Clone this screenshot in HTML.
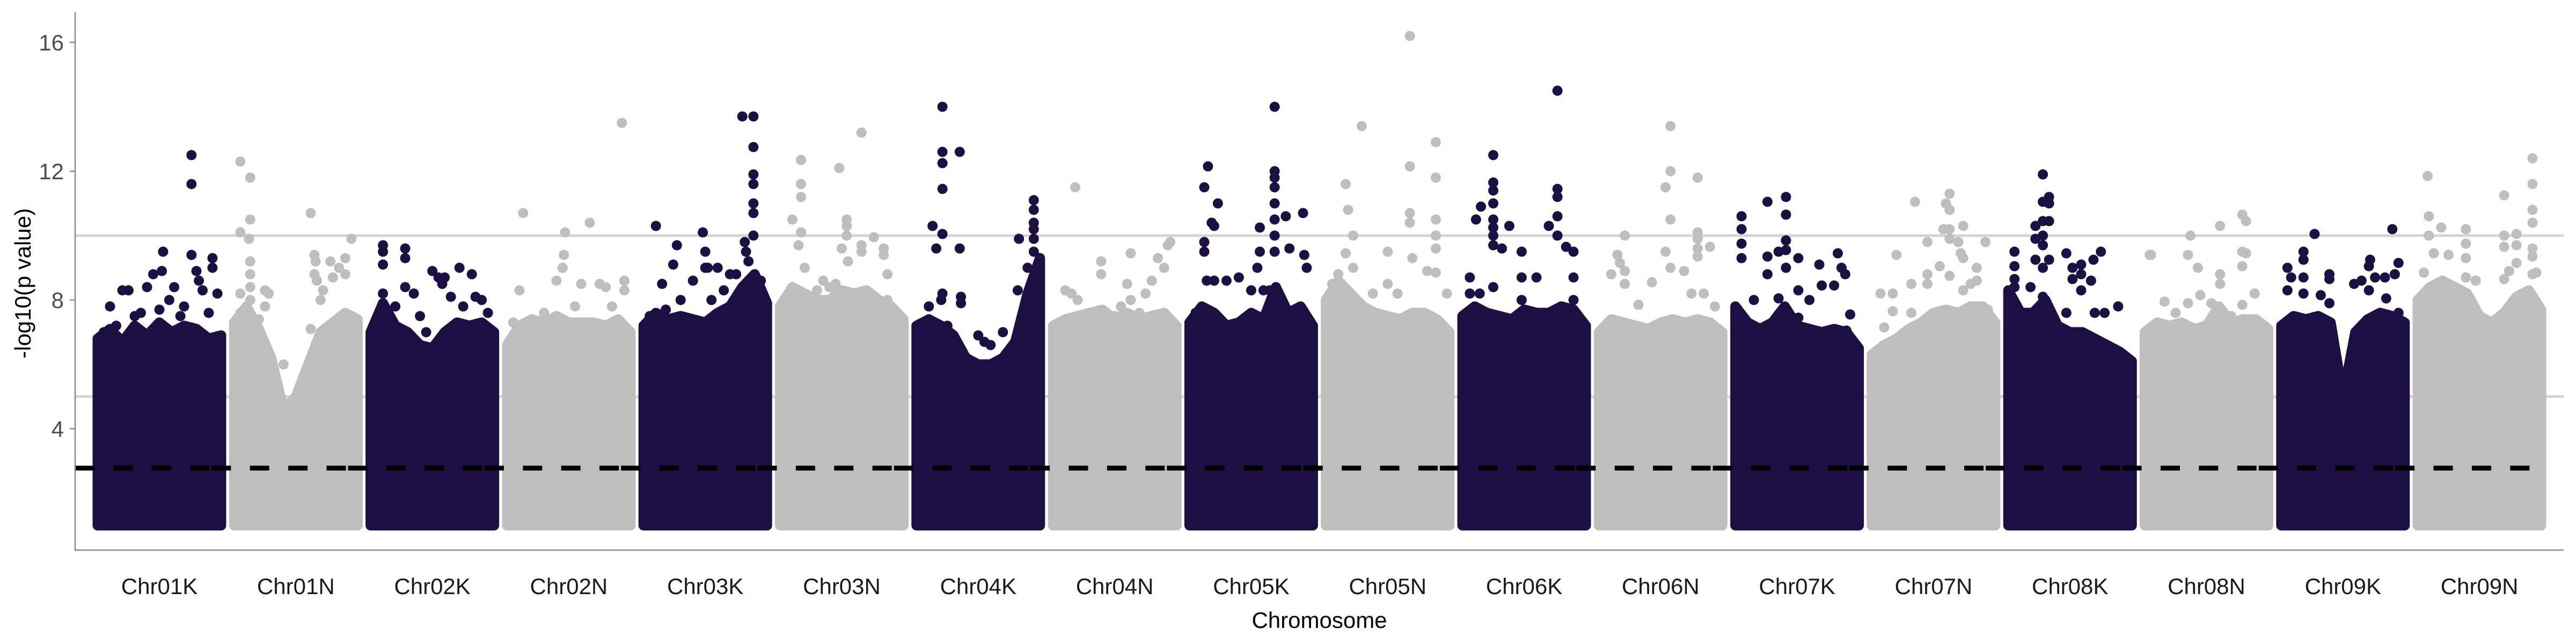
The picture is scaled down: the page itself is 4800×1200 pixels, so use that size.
<!DOCTYPE html>
<html><head><meta charset="utf-8"><style>
html,body{margin:0;padding:0;background:#fff}
svg{display:block}
text{font-family:"Liberation Sans",sans-serif}
</style></head><body>
<svg id="chart" width="4800" height="1200" viewBox="0 0 4800 1200" xmlns="http://www.w3.org/2000/svg">
<g id="refLines"></g>
<g id="blocks"></g>
<g id="points"></g>
<g id="dashes"></g>
<g id="axes"></g>
</svg>
<script>
const chromosomes = ["Chr01K","Chr01N","Chr02K","Chr02N","Chr03K","Chr03N","Chr04K","Chr04N","Chr05K","Chr05N","Chr06K","Chr06N","Chr07K","Chr07N","Chr08K","Chr08N","Chr09K","Chr09N"];
const yTicks = [4, 8, 12, 16];
const refValues = [5, 10];
const thresholdValue = 2.78;
const minValue = 1.0;
const denseTops = [
 [6.8,7.1,6.7,7.2,6.9,7.3,7.0,7.2,7.1,6.8,6.9],
 [7.3,7.8,7.1,6.2,4.6,5.0,6.0,7.0,7.3,7.6,7.4],
 [7.0,7.9,7.2,7.0,6.6,6.5,7.0,7.3,7.2,7.3,7.0],
 [6.6,7.2,7.4,7.3,7.5,7.3,7.3,7.3,7.2,7.4,7.0],
 [7.2,7.6,7.4,7.5,7.4,7.3,7.6,7.8,8.4,8.8,7.9],
 [7.8,8.4,8.2,8.0,8.0,8.3,8.2,8.3,8.0,7.8,7.4],
 [7.2,7.4,7.2,6.9,6.2,6.0,6.0,6.2,6.7,8.2,9.3],
 [7.2,7.4,7.5,7.6,7.7,7.4,7.6,7.4,7.5,7.6,7.2],
 [7.3,7.8,7.6,7.2,7.3,7.6,7.4,8.4,7.6,7.8,7.2],
 [8.0,8.6,8.2,7.8,7.6,7.5,7.4,7.6,7.6,7.4,7.0],
 [7.5,7.8,7.6,7.5,7.4,7.7,7.6,7.6,7.8,7.7,7.2],
 [7.0,7.4,7.3,7.2,7.1,7.3,7.4,7.3,7.4,7.3,7.0],
 [7.8,7.3,7.1,7.3,7.8,7.2,7.1,7.0,7.1,7.0,6.5],
 [6.3,6.6,6.8,7.1,7.3,7.6,7.7,7.6,7.8,7.8,7.3],
 [8.3,7.6,7.6,8.0,7.2,7.0,7.0,6.8,6.6,6.4,6.1],
 [7.0,7.3,7.2,7.3,7.1,7.2,7.8,7.3,7.4,7.4,7.1],
 [7.2,7.5,7.4,7.5,7.3,5.0,7.0,7.4,7.6,7.5,7.3],
 [8.0,8.4,8.6,8.4,8.2,7.5,7.3,7.6,8.1,8.3,7.7]
];
// peaks: flat [relativePosition, -log10 p, ...] per chromosome
const peaks = [
 [.76,12.5,.76,11.6,.76,9.4,.53,9.5,.52,8.9,.93,9.3,.93,9.0,.85,8.3,.8,8.9,.82,8.6,.2,8.3,.25,8.3,.1,7.8,.62,8.4,.45,8.8,.4,8.4,.35,7.6,.05,7.0,.3,7.5,.7,7.8,.9,7.6,.58,8.0,.15,7.2,.5,7.7,.67,7.5,.97,8.2],
 [.05,12.3,.13,11.8,.13,10.5,.05,10.1,.12,9.9,.13,9.2,.13,8.8,.13,8.4,.13,8.0,.62,10.7,.65,8.8,.67,8.6,.95,9.9,.9,9.3,.9,8.8,.85,9.0,.05,8.2,.05,7.6,.25,8.3,.28,8.2,.25,7.8,.62,7.1,.78,9.2,.8,8.7,.65,9.4,.66,9.2,.7,8.0,.72,8.3,.2,7.4,.4,6.0],
 [.1,9.7,.1,9.5,.1,9.1,.1,8.2,.1,7.9,.28,9.6,.28,9.3,.28,8.4,.5,8.9,.72,9.0,.82,8.8,.55,8.7,.6,8.7,.58,8.5,.65,8.1,.4,7.5,.85,8.1,.9,8.0,.45,7.0,.2,7.8,.35,8.2,.75,7.8,.95,7.6,.15,7.3],
 [.13,10.7,.47,10.1,.67,10.4,.46,9.4,.45,9.0,.95,8.6,.95,8.3,.1,8.3,.4,8.6,.6,8.5,.75,8.5,.8,8.4,.93,13.5,.3,7.6,.55,7.8,.2,7.4,.85,7.8,.05,7.3],
 [.1,10.3,.48,10.1,.27,9.7,.24,9.1,.5,9.5,.5,9.0,.52,9.0,.89,13.7,.8,13.7,.89,12.75,.89,11.9,.89,11.6,.89,11.0,.89,10.7,.89,10.0,.82,9.8,.83,9.5,.75,8.8,.7,8.8,.85,9.2,.95,8.6,.6,9.0,.4,8.6,.15,8.5,.18,7.7,.55,8.0,.65,8.3,.3,8.0,.05,7.5],
 [.17,12.35,.17,11.6,.17,11.2,.1,10.5,.17,10.1,.15,9.7,.48,12.1,.66,13.2,.54,10.5,.54,10.3,.54,10.0,.5,9.6,.66,9.7,.66,9.5,.76,9.95,.84,9.6,.84,9.4,.87,8.8,.87,8.0,.35,8.6,.3,8.3,.4,8.4,.6,8.0,.45,8.5,.95,7.6,.2,9.0,.55,9.2],
 [.21,14.0,.21,12.6,.21,12.25,.21,11.45,.21,10.05,.35,12.6,.13,10.3,.16,9.6,.35,9.6,.21,8.2,.2,8.0,.1,7.8,.36,8.1,.36,7.9,.5,6.9,.55,6.7,.6,6.6,.7,7.0,.25,7.2,.95,11.1,.95,10.8,.95,10.4,.95,10.2,.95,9.9,.95,9.5,.83,9.9,.82,8.3,.9,9.0,.05,7.0],
 [.18,11.5,.39,9.2,.39,8.8,.63,9.45,.93,9.7,.95,9.8,.85,9.3,.9,9.0,.63,8.0,.6,8.5,.7,7.6,.75,8.2,.8,8.6,.1,8.3,.15,8.2,.2,8.0,.5,7.5,.55,7.8,.3,7.6],
 [.15,12.15,.12,11.5,.23,11.0,.18,10.4,.2,10.3,.12,9.8,.12,9.5,.14,8.6,.2,8.6,.69,14.0,.69,12.0,.69,11.8,.69,11.5,.69,11.0,.69,10.5,.69,10.0,.69,9.5,.78,10.6,.92,10.7,.57,10.25,.57,9.5,.81,9.6,.93,9.4,.95,9.0,.5,8.3,.4,8.7,.3,8.6,.65,8.3,.55,9.0,.6,8.3,.05,7.6],
 [.68,16.2,.68,12.15,.68,10.7,.68,10.4,.29,13.4,.89,12.9,.89,11.8,.89,10.5,.89,10.0,.89,9.6,.16,11.6,.18,10.8,.22,10.0,.16,9.45,.5,9.5,.7,9.3,.82,8.9,.89,8.85,.58,8.2,.5,8.5,.98,8.2,.38,8.2,.22,9.0,.05,8.5,.1,8.8],
 [.25,12.5,.25,11.65,.25,11.4,.25,11.0,.25,10.5,.25,10.25,.25,10.0,.25,9.7,.15,10.9,.11,10.5,.38,10.3,.77,14.5,.77,11.45,.77,11.2,.77,10.6,.7,10.3,.77,10.0,.84,9.65,.9,9.5,.32,9.6,.48,9.5,.48,8.7,.6,8.7,.06,8.7,.9,8.7,.9,8.0,.06,8.2,.14,8.2,.25,8.4,.48,8.0],
 [.58,13.4,.58,12.0,.54,11.5,.58,10.5,.8,11.8,.8,10.1,.8,9.9,.8,9.6,.8,9.35,.21,10.0,.9,9.65,.54,9.5,.15,9.4,.17,9.15,.21,8.9,.21,8.5,.1,8.8,.43,8.55,.69,8.9,.32,7.85,.75,8.2,.85,8.2,.94,7.8,.58,9.0],
 [.05,10.6,.05,10.2,.05,9.75,.05,9.3,.26,11.05,.41,11.2,.41,10.65,.41,9.85,.41,9.55,.41,9.0,.26,9.35,.26,8.8,.51,9.3,.68,9.1,.83,9.45,.86,9.0,.89,8.8,.35,9.5,.51,8.3,.6,8.0,.7,8.45,.8,8.45,.35,8.05,.93,7.55,.51,7.45,.9,7.05,.15,8.0],
 [.63,11.3,.63,10.8,.6,11.0,.35,11.05,.74,10.3,.58,10.2,.63,10.2,.45,9.8,.63,9.9,.7,9.8,.92,9.8,.2,9.4,.72,9.45,.74,9.3,.85,9.0,.55,9.05,.45,8.8,.63,8.75,.45,8.5,.32,8.5,.32,7.6,.85,8.6,.8,8.5,.07,8.2,.17,8.2,.17,7.65,.1,7.15,.74,8.3,.94,7.7],
 [.28,11.9,.33,11.2,.28,11.05,.33,11.0,.28,10.45,.33,10.45,.22,10.3,.28,10.0,.22,9.9,.28,9.7,.05,9.5,.05,9.05,.05,8.65,.05,8.4,.33,9.25,.28,9.0,.22,9.25,.47,9.45,.75,9.5,.69,9.25,.59,9.1,.52,9.0,.59,8.8,.67,8.6,.18,8.4,.52,8.65,.89,7.8,.78,7.6,.7,7.6,.28,8.1,.47,7.6,.59,8.3],
 [.61,10.3,.79,10.65,.82,10.45,.37,10.0,.35,9.4,.05,9.4,.79,9.5,.82,9.45,.79,9.05,.43,9.0,.61,8.8,.61,8.5,.45,8.15,.89,8.2,.16,7.95,.35,7.9,.54,7.9,.79,7.85,.04,9.4,.25,7.6,.7,7.5],
 [.27,10.05,.9,10.2,.18,9.5,.18,9.25,.05,9.0,.08,8.7,.18,8.7,.39,8.8,.39,8.65,.72,9.25,.71,9.05,.95,9.15,.92,8.8,.84,8.7,.76,8.7,.59,8.5,.65,8.6,.71,8.3,.85,8.05,.95,7.6,.32,8.15,.39,7.9,.05,8.3,.05,7.2,.18,8.2],
 [.93,12.4,.93,11.6,.93,10.8,.93,10.4,.08,11.85,.09,10.6,.7,11.25,.09,10.0,.19,10.25,.39,10.2,.39,9.75,.39,9.3,.7,10.0,.8,10.05,.7,9.65,.8,9.7,.13,9.45,.25,9.4,.8,9.15,.93,9.6,.93,9.35,.93,8.8,.05,8.85,.7,8.65,.96,8.85,.47,8.6,.39,8.7,.74,8.9]
];

const NS = "http://www.w3.org/2000/svg";
const X0 = 140, X1 = 4777, YTOP = 23, YBOT = 1025;
const STEP = 254.3, FIRST = 182, SPAN = 230, R = 9.5;
const DARK = "#1c0f42", LIGHT = "#bebebe";
function yScale(v){ return 1039 - 60 * v; }
function xScale(i, p){ return FIRST + STEP * i + SPAN * p; }
function xCenter(i){ return xScale(i, 0.5); }
function mk(tag, attrs, parent){
  const e = document.createElementNS(NS, tag);
  for (const k in attrs) e.setAttribute(k, attrs[k]);
  parent.appendChild(e); return e;
}
const gRef = document.getElementById('refLines');
const gBlk = document.getElementById('blocks');
const gPts = document.getElementById('points');
const gDash = document.getElementById('dashes');
const gAx = document.getElementById('axes');

refValues.forEach(function(v){
  const l = mk('line', {x1:X0, x2:X1, y1:yScale(v), y2:yScale(v), stroke:'#d3d3d3', 'stroke-width':5}, gRef);
  
  
});

chromosomes.forEach(function(name, i){
  const col = i % 2 === 0 ? DARK : LIGHT;
  const tops = denseTops[i];
  let pts = [];
  pts.push(xScale(i,0) + ',' + yScale(minValue));
  tops.forEach(function(v, k){ pts.push(xScale(i, k/(tops.length-1)) + ',' + yScale(v)); });
  pts.push(xScale(i,1) + ',' + yScale(minValue));
  const poly = mk('polygon', {points: pts.join(' '), fill: col, stroke: col, 'stroke-width': R*2, 'stroke-linejoin':'round'}, gBlk);
  
  
  const pk = peaks[i];
  for (let k = 0; k < pk.length; k += 2) {
    const c = mk('circle', {cx: xScale(i, pk[k]), cy: yScale(pk[k+1]), r: R, fill: col}, gPts);
    
    
  }
  const sx = X0 + STEP * i;
  const seg = mk('line', {x1: sx, x2: Math.min(sx + STEP, X1), y1: yScale(thresholdValue), y2: yScale(thresholdValue), stroke:'#000', 'stroke-width':9, 'stroke-dasharray':'36 35.4'}, gDash);
  
  
  const t = mk('text', {x: xCenter(i), y: 1107, 'font-size': 42, fill: '#1a1a1a', 'text-anchor': 'middle'}, gAx);
  t.textContent = name;
  
  
});

const yAxis = mk('line', {x1:X0, x2:X0, y1:YTOP, y2:YBOT+1, stroke:'#8a8a8a', 'stroke-width':2.5}, gAx);


const xAxis = mk('line', {x1:X0-1, x2:X1, y1:YBOT, y2:YBOT, stroke:'#8a8a8a', 'stroke-width':2.5}, gAx);


yTicks.forEach(function(v){
  const tk = mk('line', {x1:X0-10, x2:X0, y1:yScale(v), y2:yScale(v), stroke:'#8a8a8a', 'stroke-width':2.5}, gAx);
  
  
  const lb = mk('text', {x: 119, y: yScale(v) + 15, 'font-size': 42, fill: '#4d4d4d', 'text-anchor': 'end'}, gAx);
  lb.textContent = String(v);
  
  
});
const xt = mk('text', {x: (X0+X1)/2, y: 1170, 'font-size': 42, fill: '#000', 'text-anchor': 'middle'}, gAx);
xt.textContent = 'Chromosome';


const yt = mk('text', {x: 0, y: 0, 'font-size': 42, fill: '#000', 'text-anchor': 'middle', transform: 'translate(57,528) rotate(-90)'}, gAx);
yt.textContent = '-log10(p value)';


</script>
</body></html>
